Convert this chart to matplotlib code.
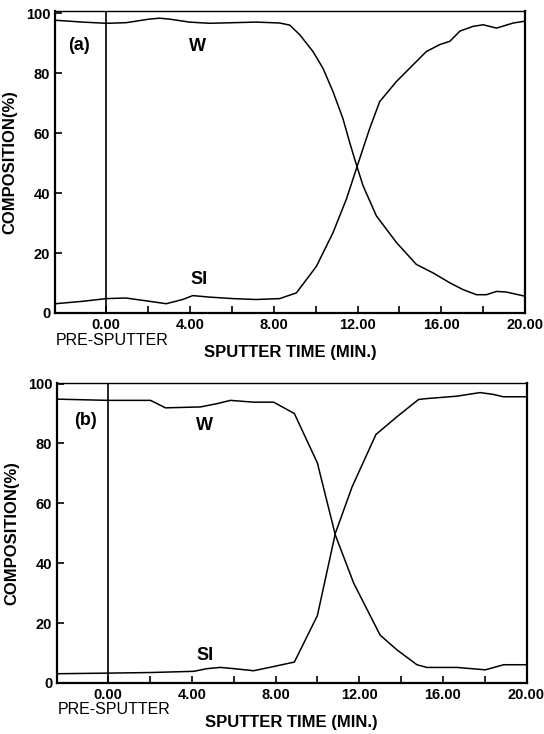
import matplotlib
matplotlib.use("Agg")
from matplotlib import pyplot as plt
from matplotlib import transforms

plt.rcParams['font.family'] = ['Liberation Sans', 'DejaVu Sans']

# panel (a)
a_w_x = [-2.41, -1.13, 0.0, 0.94, 2.06, 2.54, 3.01, 3.97, 4.93, 6.05, 7.16, 8.28, 8.76, 9.24, 9.87,
         10.35, 10.83, 11.3, 11.62, 11.86, 12.26, 12.9, 13.86, 14.81, 15.6, 16.4, 17.04, 17.68,
         18.16, 18.64, 19.1, 20.0]
a_w_y = [97.6, 97.0, 96.6, 96.8, 98.0, 98.3, 98.0, 97.0, 96.6, 96.8, 97.0, 96.7, 96.0, 92.8, 87.2,
         81.6, 73.8, 64.9, 57.0, 51.4, 42.5, 32.4, 23.5, 16.2, 13.4, 10.1, 7.8, 6.1,
         6.1, 7.2, 7.0, 5.6]
a_si_x = [-2.41, -1.13, 0.0, 0.94, 2.06, 2.86, 3.65, 4.13, 4.93, 6.05, 7.16, 8.28, 9.08, 10.04,
          10.83, 11.47, 12.1, 12.58, 13.06, 13.86, 14.66, 15.29, 15.93, 16.41, 16.89, 17.53,
          18.0, 18.64, 19.44, 20.0]
a_si_y = [3.1, 3.9, 4.8, 5.0, 3.9, 3.1, 4.5, 5.8, 5.3, 4.8, 4.5, 4.8, 6.7, 15.6,
          26.8, 38.0, 51.4, 61.5, 70.5, 77.2, 82.8, 87.2, 89.5, 90.6, 94.0, 95.6,
          96.1, 95.0, 96.7, 97.3]

# panel (b)
b_w_x = [-2.4, 0.0, 2.02, 2.74, 4.4, 5.2, 5.84, 6.95, 7.91, 8.9, 10.0, 10.86, 11.74, 13.0, 13.8,
         14.76, 15.24, 16.67, 18.03, 18.91, 20.0]
b_w_y = [94.8, 94.4, 94.4, 91.9, 92.2, 93.3, 94.4, 93.8, 93.8, 90.0, 73.5, 49.4, 33.3, 16.0, 11.1,
         6.1, 5.2, 5.2, 4.4, 6.1, 6.1]
b_si_x = [-2.4, 0.0, 2.02, 4.09, 4.73, 5.36, 6.0, 6.95, 7.91, 8.9, 10.0, 10.86, 11.66, 12.8, 13.8,
          14.84, 15.24, 16.67, 17.78, 18.41, 18.89, 20.0]
b_si_y = [3.1, 3.3, 3.5, 3.9, 4.8, 5.2, 4.8, 4.1, 5.5, 7.0, 22.5, 50.0, 65.5, 83.0, 88.9,
          94.7, 95.0, 95.8, 97.0, 96.4, 95.6, 95.6]

x_major = [0, 4, 8, 12, 16, 20]
x_minor = [2, 6, 10, 14, 18]
y_ticks = [0, 20, 40, 60, 80, 100]

panels = [
    ("(a)", a_w_x, a_w_y, a_si_x, a_si_y, [55/544, 1-313/734, 470/544, 302/734], 100.7,
     (-1.3, 89.2), (4.35, 89.0), (4.45, 11.2)),
    ("(b)", b_w_x, b_w_y, b_si_x, b_si_y, [57/544, 1-683/734, 469.5/544, 300/734], 100.2,
     (-1.1, 87.8), (4.6, 86.0), (4.65, 9.1)),
]

fig = plt.figure(figsize=(5.44, 7.34), dpi=100)

for tag, wx, wy, sx, sy, rect, ytop, tagpos, wpos, sipos in panels:
    ax = fig.add_axes(rect)
    ax.plot(wx, wy, color='black', lw=1.1)
    ax.plot(sx, sy, color='black', lw=1.1)
    ax.axvline(0, color='black', lw=1.2)
    ax.set_xlim(-2.45, 20)
    ax.set_ylim(0, ytop)
    ax.set_xticks(x_major)
    ax.set_xticklabels(["%.2f" % v for v in x_major])
    ax.set_xticks(x_minor, minor=True)
    ax.set_yticks(y_ticks)
    ax.tick_params(axis='both', which='both', direction='in', length=5, width=1.2,
                   labelsize=10.5, pad=3.5)
    for lab in ax.get_xticklabels() + ax.get_yticklabels():
        lab.set_fontweight('bold')
    for sp in ax.spines.values():
        sp.set_linewidth(1.6)
    ax.spines['top'].set_linewidth(1.0)
    ax.set_ylabel("COMPOSITION(%)", fontsize=12, fontweight='bold')
    ax.yaxis.set_label_coords(-0.08, 0.5)
    ax.text(tagpos[0], tagpos[1], tag, fontsize=13, fontweight='bold', ha='center', va='center')
    ax.text(wpos[0], wpos[1], "W", fontsize=13, fontweight='bold', ha='center', va='center')
    ax.text(sipos[0], sipos[1], "SI", fontsize=13, fontweight='bold', ha='center', va='center')
    trans = transforms.blended_transform_factory(ax.transData, ax.transAxes)
    ax.text(-2.4, -0.09, "PRE-SPUTTER", transform=trans, fontsize=11.5, ha='left', va='center')
    ax.text(0.5, -0.13, "SPUTTER TIME (MIN.)", transform=ax.transAxes, fontsize=12,
            fontweight='bold', ha='center', va='center')

plt.savefig("out.png", dpi=100)
